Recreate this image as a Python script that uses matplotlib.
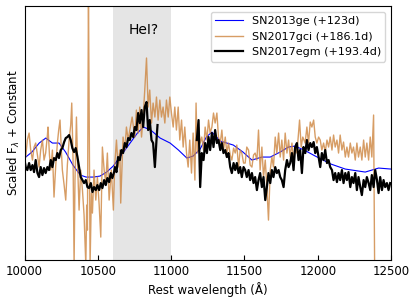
import numpy as np
import matplotlib
matplotlib.use('Agg')
import matplotlib.pyplot as plt

# SN2013ge (+123d), smooth spectrum
wl_13ge = [10000, 10050, 10100, 10145, 10190, 10235, 10280, 10330, 10380, 10420,
           10470, 10515, 10560, 10605, 10660, 10720, 10770, 10811, 10860, 10925,
           10993, 11050, 11107, 11150, 11198, 11240, 11278, 11335, 11424, 11490,
           11551, 11619, 11676, 11744, 11800, 11846, 11920, 11983, 12090, 12188,
           12324, 12415, 12500]
fl_13ge = [1.02, 1.08, 1.17, 1.22, 1.17, 1.17, 1.08, 0.95, 0.85, 0.83,
           0.83, 0.84, 0.88, 0.94, 1.05, 1.17, 1.27, 1.33, 1.30, 1.22,
           1.17, 1.10, 1.02, 1.04, 1.11, 1.23, 1.28, 1.19, 1.15, 1.08,
           1.00, 1.03, 1.03, 1.08, 1.13, 1.14, 1.09, 1.04, 0.96, 0.91,
           0.88, 0.92, 0.91]

# SN2017gci (+186.1d), noisy
wl_17gci = [10000, 10008, 10019, 10031, 10042, 10054, 10065, 10076, 10088, 10099,
            10110, 10122, 10133, 10144, 10156, 10160, 10170, 10179, 10190, 10201,
            10213, 10224, 10233, 10242, 10251, 10258, 10270, 10281, 10292, 10304,
            10315, 10322, 10331, 10338, 10344, 10354, 10361, 10372, 10383, 10395,
            10406, 10418, 10424, 10429, 10436, 10447, 10456, 10463, 10474, 10486,
            10497, 10509, 10520, 10531, 10543, 10554, 10565, 10577, 10592, 10606,
            10615, 10627, 10638, 10650, 10656, 10672, 10684, 10695, 10707, 10718,
            10734, 10752, 10763, 10775, 10786, 10798, 10809, 10820, 10832, 10843,
            10854, 10866, 10877, 10889, 10900, 10911, 10923, 10934, 10945, 10957,
            10968, 10980, 10991, 11002, 11014, 11025, 11036, 11048, 11059, 11071,
            11082, 11093, 11105, 11116, 11127, 11139, 11150, 11162, 11170, 11178,
            11187, 11198, 11209, 11221, 11232, 11244, 11255, 11266, 11278, 11289,
            11300, 11312, 11323, 11335, 11346, 11357, 11369, 11380, 11391, 11403,
            11414, 11426, 11437, 11448, 11460, 11471, 11482, 11494, 11505, 11516,
            11528, 11539, 11551, 11562, 11573, 11585, 11596, 11607, 11619, 11630,
            11642, 11653, 11664, 11676, 11687, 11698, 11710, 11721, 11733, 11744,
            11755, 11767, 11778, 11790, 11801, 11812, 11824, 11835, 11846, 11858,
            11876, 11887, 11898, 11914, 11926, 11937, 11949, 11960, 11972, 11983,
            11994, 12006, 12017, 12028, 12040, 12051, 12063, 12074, 12085, 12097,
            12108, 12119, 12131, 12142, 12153, 12165, 12176, 12188, 12199, 12210,
            12222, 12233, 12244, 12256, 12267, 12278, 12290, 12301, 12313, 12324,
            12335, 12347, 12358, 12369, 12381, 12388]
fl_17gci = [1.23, 1.03, 1.20, 1.27, 1.10, 1.00, 1.13, 1.17, 1.05, 0.93,
            1.10, 1.20, 1.00, 1.07, 1.25, 1.33, 1.05, 0.90, 1.10, 0.63,
            0.95, 1.17, 1.30, 1.40, 1.10, 0.90, 0.75, 0.60, 0.95, 1.20,
            1.35, 1.57, 1.00, -0.05, 0.80, 1.43, 1.00, 0.50, 0.90, 0.70,
            0.45, -0.05, 0.55, 0.30, 2.70, -0.05, 0.67, 0.47, 0.90, 0.60,
            0.83, 0.55, 0.23, 1.13, 0.90, 0.77, 1.07, 0.60, 0.90, 0.50,
            0.95, 1.20, 0.93, 1.10, 0.57, 1.23, 1.10, 1.33, 1.20, 1.30,
            1.43, 1.23, 1.50, 1.27, 1.53, 1.23, 1.43, 1.70, 2.02, 1.53,
            1.70, 1.37, 1.57, 1.43, 1.63, 1.40, 1.60, 1.43, 1.53, 1.37,
            1.60, 1.43, 1.63, 1.47, 1.33, 1.53, 1.30, 1.53, 1.20, 1.40,
            1.13, 1.33, 1.07, 0.93, 1.20, 0.87, 1.27, 0.80, 1.57, 1.07,
            1.33, 1.17, 1.23, 1.10, 1.33, 1.20, 1.40, 1.27, 1.33, 1.47,
            1.37, 1.47, 1.23, 1.17, 1.30, 1.10, 1.23, 1.07, 1.17, 1.05,
            1.00, 1.12, 1.07, 1.15, 0.93, 1.10, 1.07, 0.97, 0.97, 1.13,
            1.10, 0.95, 0.93, 1.05, 1.07, 1.00, 1.30, 0.90, 1.13, 0.83,
            1.00, 0.73, 0.40, 0.90, 1.03, 0.93, 1.23, 1.07, 1.27, 1.03,
            1.20, 1.00, 1.27, 1.07, 1.20, 1.03, 1.17, 1.00, 1.13, 1.07,
            1.40, 1.13, 1.23, 1.17, 1.33, 1.17, 1.38, 1.33, 1.40, 1.23,
            1.17, 1.23, 1.20, 1.10, 1.17, 1.08, 1.20, 1.13, 1.23, 1.10,
            1.25, 1.13, 1.20, 1.07, 1.25, 1.10, 1.18, 1.03, 1.13, 1.03,
            1.17, 1.07, 1.13, 1.00, 1.17, 1.03, 1.13, 1.00, 1.20, 1.03,
            1.17, 1.00, 1.23, 1.03, 1.45, -0.05]

# SN2017egm (+193.4d), gap between ~10910 and ~11170
wl_17egm = [10000, 10008, 10019, 10031, 10042, 10054, 10065, 10076, 10088, 10099,
            10110, 10122, 10133, 10144, 10156, 10167, 10179, 10190, 10201, 10213,
            10224, 10235, 10247, 10258, 10270, 10281, 10292, 10304, 10315, 10326,
            10338, 10349, 10361, 10372, 10383, 10395, 10406, 10418, 10429, 10440,
            10452, 10463, 10474, 10486, 10497, 10509, 10520, 10531, 10543, 10554,
            10565, 10577, 10588, 10599, 10611, 10616, 10627, 10638, 10650, 10661,
            10672, 10684, 10695, 10707, 10718, 10729, 10741, 10752, 10763, 10775,
            10786, 10798, 10809, 10820, 10832, 10843, 10854, 10866, 10877, 10889,
            10900, 10907, 11000,
            11175, 11187, 11198, 11209, 11221, 11232, 11244, 11255, 11266, 11278,
            11289, 11300, 11312, 11323, 11335, 11346, 11357, 11369, 11380, 11391,
            11403, 11414, 11426, 11437, 11448, 11460, 11471, 11482, 11494, 11505,
            11516, 11528, 11539, 11551, 11562, 11573, 11585, 11596, 11607, 11619,
            11630, 11642, 11653, 11664, 11676, 11687, 11698, 11710, 11721, 11733,
            11744, 11755, 11767, 11778, 11790, 11801, 11812, 11824, 11835, 11846,
            11858, 11869, 11880, 11892, 11903, 11915, 11926, 11937, 11949, 11960,
            11972, 11983, 11994, 12006, 12017, 12028, 12040, 12051, 12063, 12074,
            12085, 12097, 12108, 12119, 12131, 12142, 12153, 12165, 12176, 12188,
            12199, 12210, 12222, 12233, 12244, 12256, 12267, 12278, 12290, 12301,
            12313, 12324, 12335, 12347, 12358, 12369, 12381, 12392, 12404, 12415,
            12426, 12438, 12449, 12460, 12472, 12483, 12494]
fl_17egm = [1.00, 0.93, 0.90, 0.97, 0.90, 0.95, 0.88, 1.00, 0.87, 0.83,
            0.93, 0.85, 0.92, 0.87, 0.93, 0.90, 1.00, 0.93, 1.02, 1.00,
            1.07, 1.02, 1.10, 1.12, 1.18, 1.22, 1.23, 1.25, 1.20, 1.12,
            1.08, 1.12, 1.03, 0.93, 0.83, 0.80, 0.77, 0.80, 0.73, 0.72,
            0.77, 0.68, 0.73, 0.70, 0.75, 0.70, 0.77, 0.72, 0.80, 0.75,
            0.82, 0.78, 0.87, 0.82, 0.88, 0.93, 0.88, 1.03, 1.00, 1.10,
            1.07, 1.17, 1.13, 1.22, 1.20, 1.27, 1.23, 1.33, 1.30, 1.47,
            1.37, 1.50, 1.33, 1.53, 1.58, 1.30, 1.40, 1.20, 1.17, 0.93,
            1.20, 1.35, np.nan,
            1.20, 1.40, 0.73, 1.07, 1.00, 1.17, 1.07, 1.23, 1.10, 1.27,
            1.13, 1.30, 1.17, 1.20, 1.10, 1.17, 1.07, 1.10, 1.03, 1.07,
            0.93, 0.87, 0.97, 0.90, 0.97, 0.87, 0.93, 0.83, 0.93, 0.90,
            0.83, 0.90, 0.80, 0.87, 0.77, 0.83, 0.70, 0.80, 0.87, 0.73,
            0.83, 0.60, 0.73, 0.87, 0.77, 0.90, 0.83, 0.93, 0.87, 0.90,
            0.83, 0.80, 0.73, 0.90, 1.00, 0.93, 0.97, 1.07, 0.90, 1.13,
            1.17, 1.00, 1.10, 0.87, 1.13, 1.07, 1.20, 1.10, 1.17, 1.13,
            1.18, 1.07, 1.13, 1.03, 0.93, 1.07, 1.00, 1.10, 0.97, 1.00,
            0.93, 0.90, 0.80, 0.87, 0.78, 0.87, 0.80, 0.90, 0.77, 0.87,
            0.80, 0.88, 0.73, 0.83, 0.77, 0.87, 0.70, 0.83, 0.73, 0.65,
            0.80, 0.73, 0.83, 0.77, 0.70, 0.85, 0.73, 0.90, 0.80, 0.67,
            0.83, 0.70, 0.80, 0.73, 0.77, 0.70, 0.77]

fig = plt.figure(figsize=(4.16, 3.0), dpi=100)
ax = fig.add_axes([0.059, 0.133, 0.881, 0.847])

ax.axvspan(10600, 11000, color='gray', alpha=0.2, lw=0)
ax.plot(wl_13ge, fl_13ge, color='blue', lw=0.8, label='SN2013ge (+123d)')
ax.plot(wl_17gci, fl_17gci, color='peru', lw=1.0, alpha=0.8, label='SN2017gci (+186.1d)')
ax.plot(wl_17egm, fl_17egm, color='black', lw=1.6, label='SN2017egm (+193.4d)')

ax.text(10810, 2.30, 'HeI?', ha='center', va='center', fontsize=10)

ax.set_xlim(10000, 12500)
ax.set_ylim(0, 2.54)
ax.set_xticks([10000, 10500, 11000, 11500, 12000, 12500])
ax.set_yticks([])
ax.tick_params(labelsize=8.5, direction='in')
ax.set_xlabel('Rest wavelength (Å)', fontsize=8.5, labelpad=3)
ax.set_ylabel(r'Scaled F$_\lambda$ + Constant', fontsize=8.5, labelpad=1.5)
ax.legend(loc='upper right', fontsize=8, handlelength=2.5, borderaxespad=0.5)

fig.savefig('out.png', dpi=100)
